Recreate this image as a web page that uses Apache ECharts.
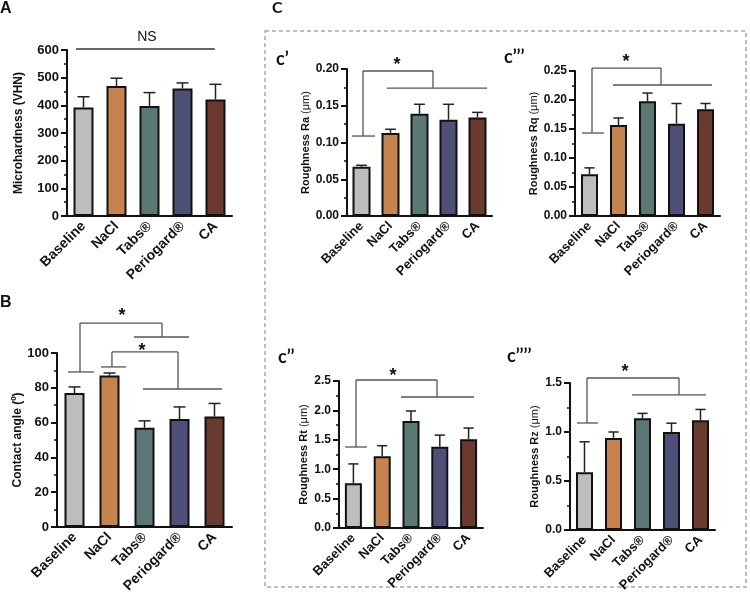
<!DOCTYPE html>
<html>
<head>
<meta charset="utf-8">
<script src="https://cdn.jsdelivr.net/npm/echarts@6/dist/echarts.min.js"></script>
<style>
html, body { margin: 0; padding: 0; background: #fff; }
#chart { width: 750px; height: 600px; }
</style>
</head>
<body>
<div id="chart"></div>
<script>
var groups = ['Baseline', 'NaCl', 'Tabs®', 'Periogard®', 'CA'];
var barColors = ['#bdbdbd', '#c4834f', '#5c7874', '#4f5078', '#6a3a2e'];

// A - microhardness (mean, mean + sd)
var hardMean = [392, 470, 398, 461, 421];
var hardTop = [431, 498, 446, 481, 476];
// B - contact angle
var angleMean = [77, 87, 57, 62, 63.5];
var angleTop = [80.5, 88.5, 61, 69, 71];
// C - roughness
var raMean = [0.067, 0.113, 0.139, 0.131, 0.134];
var raTop = [0.069, 0.118, 0.152, 0.152, 0.141];
var rqMean = [0.072, 0.157, 0.198, 0.159, 0.184];
var rqTop = [0.083, 0.169, 0.212, 0.194, 0.194];
var rtMean = [0.76, 1.22, 1.82, 1.38, 1.51];
var rtTop = [1.09, 1.40, 1.99, 1.58, 1.70];
var rzMean = [0.59, 0.94, 1.14, 1.00, 1.12];
var rzTop = [0.90, 1.00, 1.19, 1.09, 1.23];

// significance brackets, in category index / axis value units
// [legL, legR, topV, footL, footR, spanL0, spanL1, spanR0, spanR1, starX, starV]
var bracketsB = [
  [0.157, 2.5, 117.2, 89.1, 109.2, -0.186, 0.557, 1.7, 3.27, 1.357, 123.6],
  [1.07, 2.957, 100.6, 92, 79.3, 0.757, 1.471, 1.957, 4.214, 1.93, 103.4]
];
var bracketsRa = [[0.052, 2.466, 0.1973, 0.1088, 0.1741, -0.328, 0.466, 0.879, 4.33, 1.224, 0.211]];
var bracketsRq = [[0.086, 2.466, 0.255, 0.1431, 0.2259, -0.259, 0.5, 0.81, 4.224, 1.259, 0.272]];
var bracketsRt = [[0.09, 2.903, 2.517, 1.378, 2.228, -0.29, 0.472, 1.653, 4.19, 1.375, 2.653]];
var bracketsRz = [[0.086, 3.259, 1.551, 1.092, 1.378, -0.259, 0.466, 1.638, 4.19, 1.397, 1.653]];
// NS line over A: [x0, x1, value, textX, textV]
var nsLine = [-0.227, 3.98, 603.6, 1.92, 647];

var font = 'Liberation Sans';
var ink = '#111';

var panels = [
  { x: 67, y: 50, w: 165, h: 166, max: 600, step: 100, dec: 0, mean: hardMean, top: hardTop,
    name: '{b|Microhardness (VHN)}', nameGap: 42, nameSize: 12, tickSize: 13, catSize: 14, barW: 20, br: null },
  { x: 57, y: 353, w: 175, h: 174, max: 100, step: 20, dec: 0, mean: angleMean, top: angleTop,
    name: '{b|Contact angle (º)}', nameGap: 33, nameSize: 12, tickSize: 13, catSize: 14, barW: 20, br: bracketsB },
  { x: 347, y: 69, w: 145, h: 147, max: 0.2, step: 0.05, dec: 2, mean: raMean, top: raTop,
    name: '{b|Roughness Ra }{n|(μm)}', nameGap: 34, nameSize: 11, tickSize: 12, catSize: 13, barW: 18, br: bracketsRa },
  { x: 575, y: 71, w: 145, h: 145, max: 0.25, step: 0.05, dec: 2, mean: rqMean, top: rqTop,
    name: '{b|Roughness Rq }{n|(μm)}', nameGap: 34, nameSize: 11, tickSize: 12, catSize: 13, barW: 17, br: bracketsRq },
  { x: 339, y: 381, w: 144, h: 147, max: 2.5, step: 0.5, dec: 1, mean: rtMean, top: rtTop,
    name: '{b|Roughness Rt }{n|(μm)}', nameGap: 30, nameSize: 11, tickSize: 12, catSize: 13, barW: 17, br: bracketsRt },
  { x: 570, y: 383, w: 145, h: 147, max: 1.5, step: 0.5, dec: 1, mean: rzMean, top: rzTop,
    name: '{b|Roughness Rz }{n|(μm)}', nameGap: 30, nameSize: 11, tickSize: 12, catSize: 13, barW: 17, br: bracketsRz }
];

// x position of a fractional category index at value v
function fracPoint(api, f, v) {
  var a = api.coord([0, v]), c = api.coord([1, v]);
  return [a[0] + f * (c[0] - a[0]), a[1]];
}

function seg(p, q, color, w) {
  return { type: 'line', shape: { x1: p[0], y1: p[1], x2: q[0], y2: q[1] },
    style: { stroke: color, lineWidth: w } };
}

function errorRender(p) {
  return function (params, api) {
    var i = params.dataIndex;
    var base = api.coord([i, p.mean[i]]);
    var tip = api.coord([i, p.top[i]]);
    var half = p.barW * 0.3;
    return { type: 'group', children: [
      seg(base, tip, '#222', 1.5),
      seg([tip[0] - half, tip[1]], [tip[0] + half, tip[1]], '#222', 1.5)
    ] };
  };
}

function bracketRender(list) {
  return function (params, api) {
    var b = list[params.dataIndex];
    var col = '#555';
    var tl = fracPoint(api, b[0], b[2]), tr = fracPoint(api, b[1], b[2]);
    var star = fracPoint(api, b[9], b[10]);
    return { type: 'group', children: [
      seg(tl, tr, col, 1.3),
      seg(tl, fracPoint(api, b[0], b[3]), col, 1.3),
      seg(fracPoint(api, b[5], b[3]), fracPoint(api, b[6], b[3]), col, 1.3),
      seg(tr, fracPoint(api, b[1], b[4]), col, 1.3),
      seg(fracPoint(api, b[7], b[4]), fracPoint(api, b[8], b[4]), col, 1.3),
      { type: 'text', style: { text: '*', x: star[0], y: star[1] + 4, align: 'center', verticalAlign: 'middle',
        fontFamily: font, fontWeight: 'bold', fontSize: 18, fill: ink } }
    ] };
  };
}

function nsRender(params, api) {
  var a = fracPoint(api, nsLine[0], nsLine[2]), b = fracPoint(api, nsLine[1], nsLine[2]);
  var t = fracPoint(api, nsLine[3], nsLine[4]);
  return { type: 'group', children: [
    seg(a, b, '#333', 1.3),
    { type: 'text', style: { text: 'NS', x: t[0], y: t[1], align: 'center', verticalAlign: 'middle',
      fontFamily: font, fontSize: 14, fill: ink } }
  ] };
}

var option = { animation: false, grid: [], xAxis: [], yAxis: [], series: [], graphic: [] };

panels.forEach(function (p, k) {
  option.grid.push({ left: p.x, top: p.y, width: p.w, height: p.h });
  option.xAxis.push({
    type: 'category', gridIndex: k, data: groups,
    axisLine: { lineStyle: { color: ink, width: 2 } },
    axisTick: { alignWithLabel: true, length: 6, lineStyle: { color: ink, width: 2 } },
    axisLabel: { rotate: 45, margin: 8, color: ink, fontWeight: 'bold', fontSize: p.catSize, fontFamily: font, interval: 0 }
  });
  option.yAxis.push({
    type: 'value', gridIndex: k, min: 0, max: p.max, interval: p.step,
    splitLine: { show: false },
    axisLine: { show: true, lineStyle: { color: ink, width: 2 } },
    axisTick: { show: true, length: 6, lineStyle: { color: ink, width: 2 } },
    minorTick: { show: true, splitNumber: 2, length: 3, lineStyle: { color: ink, width: 1.5 } },
    axisLabel: { margin: 8, color: ink, fontWeight: 'bold', fontSize: p.tickSize, fontFamily: font,
      formatter: function (v) { return v.toFixed(p.dec); } },
    name: p.name, nameLocation: 'middle', nameGap: p.nameGap,
    nameTextStyle: { rich: {
      b: { fontFamily: font, fontWeight: 'bold', fontSize: p.nameSize, color: ink },
      n: { fontFamily: font, fontSize: p.nameSize, color: ink }
    } }
  });
  option.series.push({
    type: 'bar', xAxisIndex: k, yAxisIndex: k, barWidth: p.barW, silent: true,
    itemStyle: { borderColor: ink, borderWidth: 2 },
    data: p.mean.map(function (v, i) { return { value: v, itemStyle: { color: barColors[i] } }; })
  });
  option.series.push({
    type: 'custom', xAxisIndex: k, yAxisIndex: k, clip: false, silent: true, z: 3,
    data: p.top.map(function (v, i) { return [i, v]; }),
    renderItem: errorRender(p)
  });
  if (p.br) {
    option.series.push({
      type: 'custom', xAxisIndex: k, yAxisIndex: k, clip: false, silent: true, z: 3,
      data: p.br.map(function () { return [0, 0]; }),
      renderItem: bracketRender(p.br)
    });
  }
});

option.series.push({
  type: 'custom', xAxisIndex: 0, yAxisIndex: 0, clip: false, silent: true, z: 3,
  data: [[0, 0]], renderItem: nsRender
});

// panel letters and the dashed frame around C
var letters = [
  ['A', 0, 9, font, 16], ['B', 0, 303, font, 16], ['C', 272, 8, 'Lato', 16],
  ['c’', 276, 59, 'Lato', 18], ['c’’’', 504, 57, 'Lato', 18],
  ['c’’', 278, 357, 'Lato', 18], ['c’’’’', 507, 356, 'Lato', 18]
];
letters.forEach(function (l) {
  option.graphic.push({ type: 'text', left: l[1], top: l[2] - l[4] / 2,
    style: { text: l[0], fontFamily: l[3], fontWeight: 'bold', fontSize: l[4], fill: ink } });
});
option.graphic.push({ type: 'rect', shape: { x: 265, y: 31, width: 481, height: 556 }, z: -1,
  style: { fill: 'none', stroke: '#a8a8a8', lineWidth: 1.5, lineDash: [4, 3] } });

var chart = echarts.init(document.getElementById('chart'));
chart.setOption(option);
</script>
</body>
</html>
